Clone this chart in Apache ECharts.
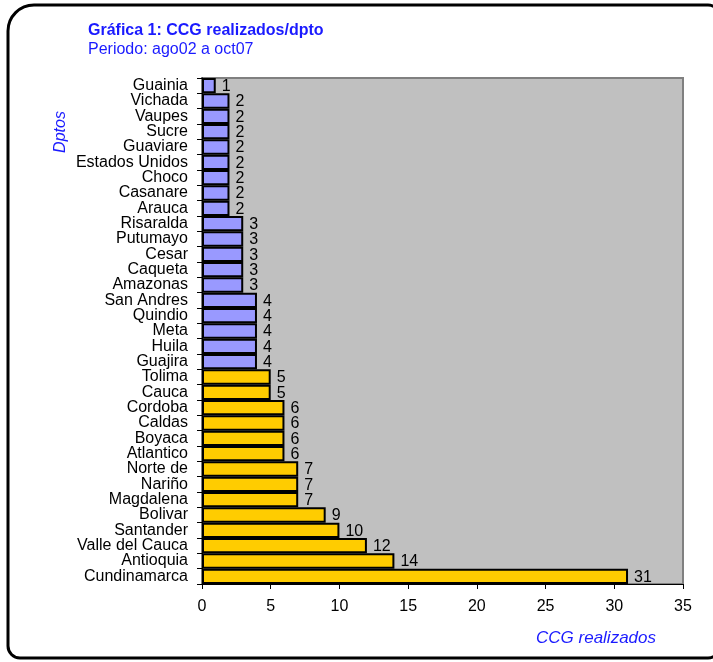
<!DOCTYPE html>
<html><head><meta charset="utf-8">
<script src="https://cdn.jsdelivr.net/npm/echarts@6/dist/echarts.min.js"></script>
<style>html,body{margin:0;padding:0;background:#fff}#c{width:713px;height:662px}</style>
</head><body><div id="c"></div>
<script>
const categories = ["Cundinamarca","Antioquia","Valle del Cauca","Santander","Bolivar","Magdalena","Nariño","Norte de","Atlantico","Boyaca","Caldas","Cordoba","Cauca","Tolima","Guajira","Huila","Meta","Quindio","San Andres","Amazonas","Caqueta","Cesar","Putumayo","Risaralda","Arauca","Casanare","Choco","Estados Unidos","Guaviare","Sucre","Vaupes","Vichada","Guainia"];
const values = [31,14,12,10,9,7,7,7,6,6,6,6,5,5,4,4,4,4,4,3,3,3,3,3,2,2,2,2,2,2,2,2,1];
const xTicks = [0,5,10,15,20,25,30,35];
const titleText = "Gráfica 1: CCG realizados/dpto";
const subtitleText = "Periodo: ago02 a oct07";
const yAxisTitle = "Dptos";
const xAxisTitle = "CCG realizados";

const chart = echarts.init(document.getElementById('c'), null, {renderer:'canvas'});
const F = 'Liberation Sans, Arial, sans-serif';
chart.setOption({
  animation:false,
  backgroundColor:'#fff',
  graphic:[
    {type:'rect', shape:{x:8,y:5,width:712,height:653,r:[26,12,12,12]}, style:{fill:'none',stroke:'#000',lineWidth:3}, z:100},
    {type:'text', left:88, top:23, style:{text:titleText, font:'bold 16px '+F, fill:'#1a1aff'}},
    {type:'text', left:88, top:42, style:{text:subtitleText, font:'16px '+F, fill:'#1a1aff'}},
    {type:'text', x:61, y:132, rotation:Math.PI/2, style:{text:yAxisTitle, font:'italic 16px '+F, fill:'#1a1aff', align:'center', verticalAlign:'middle'}},
    {type:'text', x:656, y:638, style:{text:xAxisTitle, font:'italic 17px '+F, fill:'#1a1aff', align:'right', verticalAlign:'middle'}}
  ],
  grid:{left:202, right:30, top:78, bottom:78, show:true, backgroundColor:'#c0c0c0', borderColor:'#808080', borderWidth:2, containLabel:false},
  xAxis:{type:'value', min:0, max:35, interval:5,
    axisLine:{show:true, lineStyle:{color:'#000', width:1}},
    axisTick:{show:true, length:5, lineStyle:{color:'#000'}},
    axisLabel:{color:'#000', fontFamily:F, fontSize:16, margin:15, formatter:v=>xTicks.includes(v)?String(v):''},
    splitLine:{show:false}},
  yAxis:{type:'category', data:categories,
    axisLine:{show:true, lineStyle:{color:'#000', width:1}},
    axisTick:{show:true, length:5, interval:0, lineStyle:{color:'#000'}},
    axisLabel:{color:'#000', fontFamily:F, fontSize:16, margin:14, interval:0},
    splitLine:{show:false}},
  series:[{type:'bar', data:values, barCategoryGap:'0%',
    itemStyle:{borderColor:'#000', borderWidth:2, color:p=>p.value>=5?'#ffcc00':'#9999ff'},
    label:{show:true, position:'right', distance:6, offset:[0,1], color:'#000', fontFamily:F, fontSize:16}}]
});
</script></body></html>
